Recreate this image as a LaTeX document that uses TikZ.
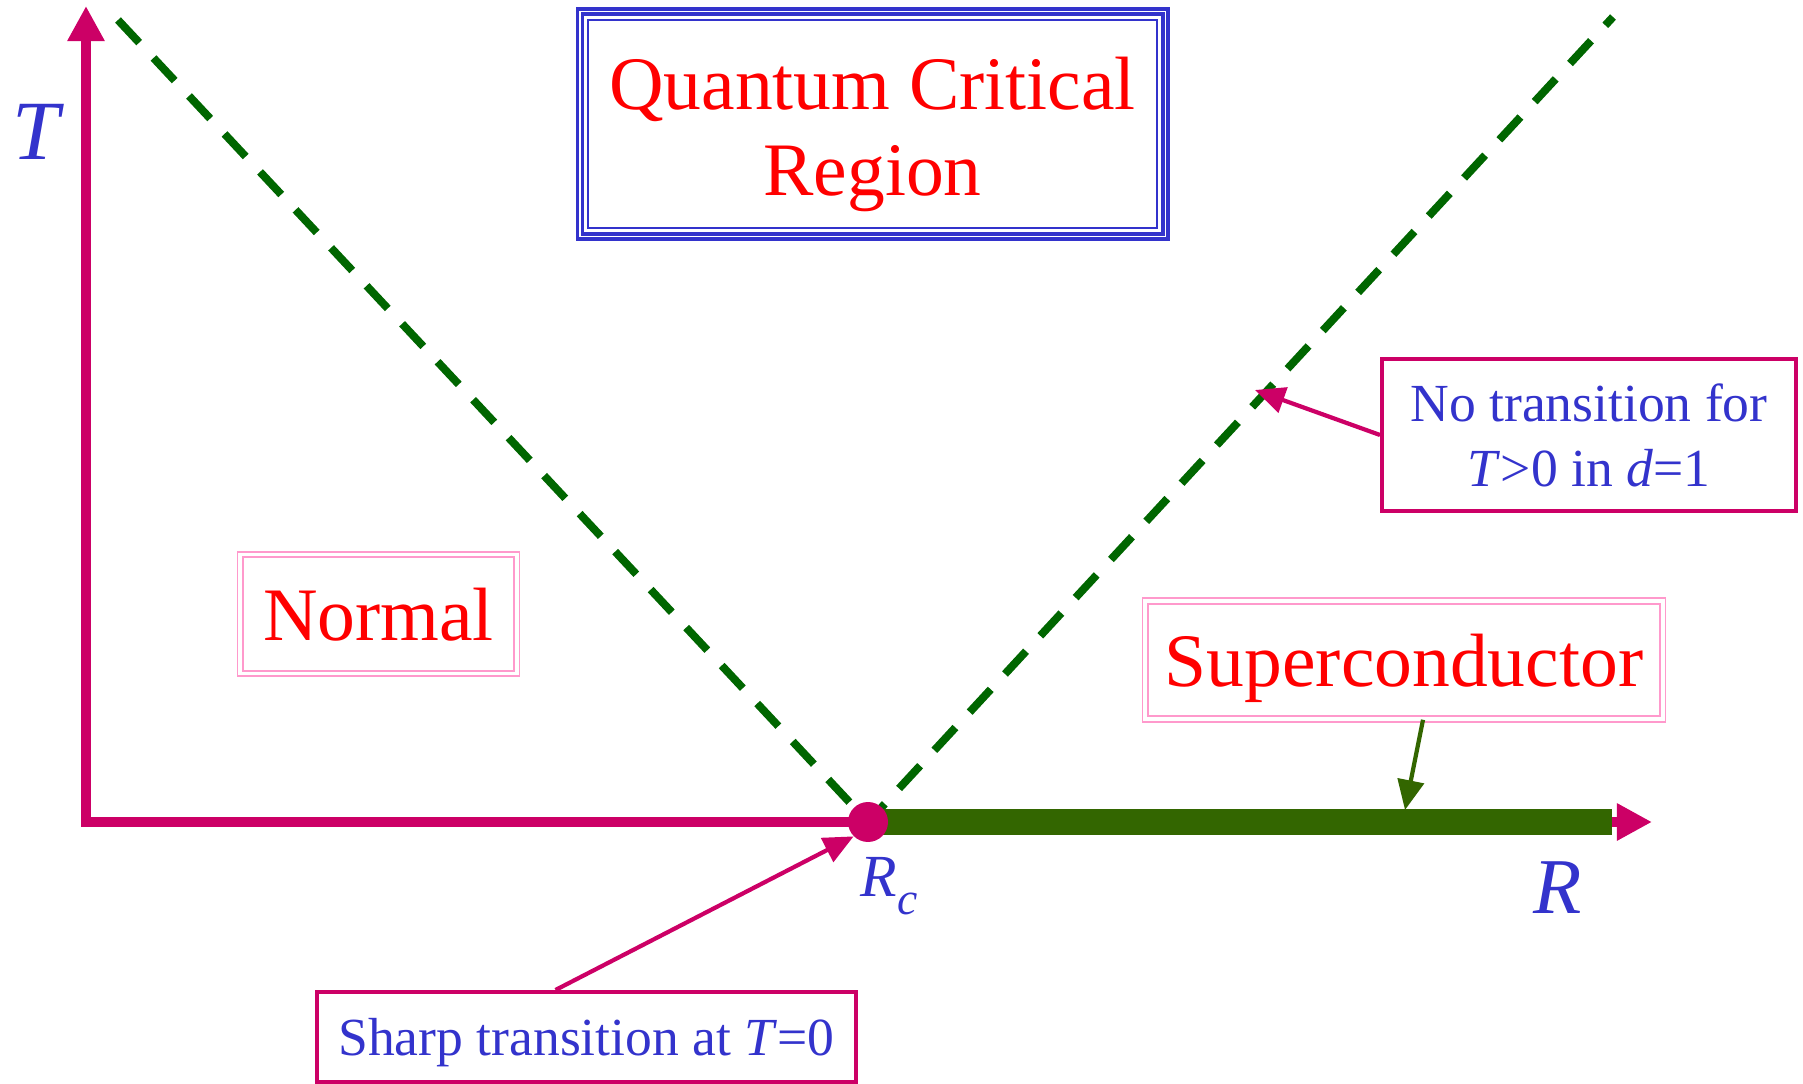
\documentclass[tikz,border=0pt]{standalone}
\usepackage{fontspec}
\setmainfont{Liberation Serif}
\usetikzlibrary{arrows.meta}
\definecolor{axispink}{HTML}{CC0066}
\definecolor{dashgreen}{HTML}{006600}
\definecolor{scgreen}{HTML}{336600}
\definecolor{labelblue}{HTML}{3333CC}
\definecolor{boxpink}{HTML}{FF99CC}
\tikzset{
  regionlabel/.style={text=red, font=\fontsize{43}{49.5}\selectfont, inner sep=0pt},
  pinkbox/.style={regionlabel, text depth=0pt, draw=boxpink, line width=0.9pt, double, double distance=2.2pt},
  notebox/.style={draw=axispink, line width=2.3pt, text=labelblue, align=center, inner sep=0pt,
    font=\fontsize{30.5}{37}\selectfont},
  callout/.style={axispink, line width=2.4pt, -{Triangle[length=17pt,width=15pt]}},
  crossover/.style={dashgreen, line width=4.5pt, dash pattern=on 0.62cm off 0.42cm},
  axislabel/.style={text=labelblue, font=\itshape, inner sep=0pt}
}
\begin{document}
\begin{tikzpicture}[x=0.02cm, y=-0.02cm]
  \useasboundingbox (0,0) rectangle (1803,1084);

  % axes
  \coordinate (O) at (86,822);
  \coordinate (Ttip) at (86,6);
  \coordinate (Rtip) at (1652,822);
  \coordinate (Rstop) at (1612,822);
  \draw[axispink, line width=6pt, {Triangle[length=20pt,width=20pt]}-{Triangle[length=20pt,width=20pt]}]
    (Ttip) -- (O) -- (Rtip);

  % crossover lines
  \coordinate (leftend) at (118,20);
  \coordinate (rightend) at (1613,17);
  \coordinate (rc) at (868,822);
  \draw[crossover] (leftend) -- (rc) -- (rightend);

  % superconducting line and critical point
  \draw[scgreen, line width=15.3pt] (rc) -- (Rstop);
  \node[circle, fill=axispink, minimum size=0.8cm, inner sep=0pt] (rcdot) at (rc) {};

  \node[axislabel, font=\itshape\fontsize{48}{48}\selectfont] (Tlab) at (36,132) {T};
  \node[axislabel, font=\itshape\fontsize{45}{45}\selectfont] (Rlab) at (1558,888) {R};
  \node[axislabel, font=\itshape\fontsize{34}{34}\selectfont] (Rclab) at (889,886)
       {R\raisebox{-0.3em}{\fontsize{26}{26}\selectfont c}};

  % regions
  \node[regionlabel, align=center, draw=labelblue, line width=1pt, text height=2.88cm, text depth=0pt,
        minimum width=11.38cm, minimum height=4.16cm] (qcr) at (872.5,124)
        {Quantum Critical\\Region};
  \draw[labelblue, line width=1.9pt] ([shift={(-5,-5)}]qcr.north west) rectangle ([shift={(5,5)}]qcr.south east);
  \draw[labelblue, line width=1.9pt] ([shift={(-10,-10)}]qcr.north west) rectangle ([shift={(10,10)}]qcr.south east);

  \node[pinkbox, minimum width=5.54cm, minimum height=2.38cm] (normal) at (378.5,614) {Normal};
  \node[pinkbox, minimum width=10.36cm, minimum height=2.36cm] (sc) at (1404,660) {Superconductor};

  % notes
  \node[notebox, minimum width=8.28cm, minimum height=3.04cm] (notrans) at (1589,435)
       {No transition for\\\textit{T}>0 in \textit{d}=1};
  \node[notebox, text depth=0pt, minimum width=10.78cm, minimum height=1.8cm] (sharp) at (586.5,1037)
       {Sharp transition at \textit{T}=0};

  \coordinate (dashpt) at (1255,390);
  \coordinate (scpt) at (1405,810);
  \draw[callout] ([xshift=-0.62cm]sharp.north) -- (rcdot.south west);
  \draw[callout] (notrans.west) -- (dashpt);
  \draw[callout, scgreen] ([xshift=0.38cm]sc.south) -- (scpt);
\end{tikzpicture}
\end{document}
